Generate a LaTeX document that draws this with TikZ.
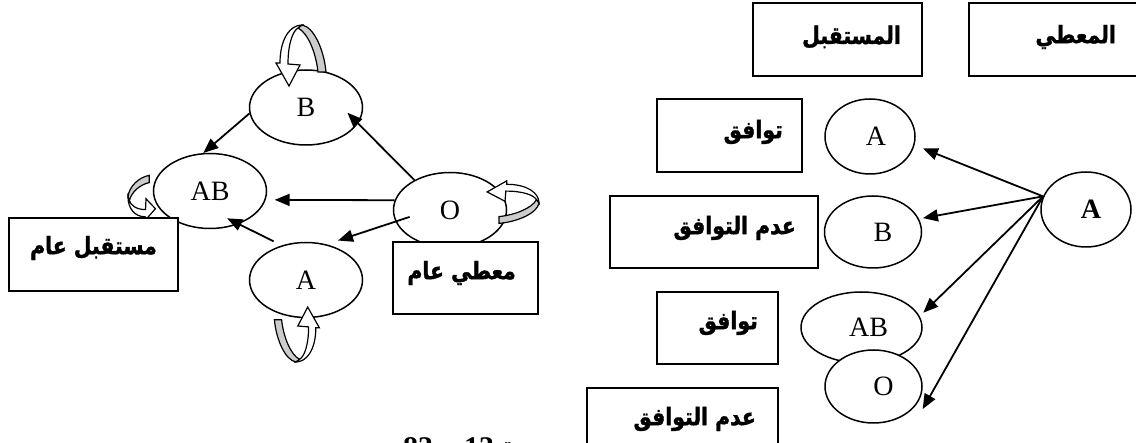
\documentclass[tikz,border=0pt]{standalone}
\usepackage{fontspec}
\setmainfont{Liberation Serif}
\newfontfamily\arabicfont[Script=Arabic, FakeStretch=0.85, BoldFeatures={FakeBold=1.5}]{DejaVu Sans}
\TeXXeTstate=1
\usetikzlibrary{shapes.geometric, arrows.meta}

% curled ribbon arrow, apex at the origin, legs pointing down
\newcommand{\loopribbon}{%
	\filldraw[fill=black!20, line width=1.2pt] (0,0) .. controls (12,2) and (22,25) .. (24,47) -- (16,47) .. controls (14,28) and (6,8) .. (-4,3) -- cycle;
	\filldraw[fill=white, line width=1.2pt] (0,0) .. controls (-12,0) and (-22,14) .. (-22,38) -- (-26,38) -- (-13,61) -- (-2,40) -- (-14,39) .. controls (-14,18) and (-9,6) .. (-4,3) -- cycle;
}

\tikzset{
	blob/.style={draw, ellipse, line width=1.5pt, fill=white, inner sep=0pt, minimum width=113pt, minimum height=75pt, font=\fontsize{28}{30}\selectfont},
	tag/.style={draw, rectangle, line width=1.8pt, fill=white, inner sep=0pt},
	artxt/.style={anchor=east, inner sep=0pt, font=\arabicfont\bfseries\fontsize{24}{28}\selectfont},
	arr/.style={line width=1.8pt, -{Triangle[length=15pt, width=12pt]}},
}

\begin{document}
\begin{tikzpicture}[x=1pt, y=-1pt]
			\useasboundingbox (0,0) rectangle (1136,443);

			% left graph
			\node[blob] (nB) at (306,107.5) {B};
			\node[blob] (nAB) at (210,191) {AB};
			\node[blob] (nO) at (450,210) {O};
			\node[blob] (nA) at (306,280) {A};

			\begin{scope}[shift={(302,25)}] \loopribbon \end{scope}
			\begin{scope}[shift={(296,362)}, rotate=180, scale=0.9] \loopribbon \end{scope}
			\begin{scope}[shift={(539,203)}, rotate=-90, scale=0.85] \loopribbon \end{scope}
			\begin{scope}[shift={(128,197)}, rotate=90, xscale=0.9, yscale=0.45] \loopribbon \end{scope}

			\draw[arr] (nB.186) -- (nAB.100);
			\draw[arr, shorten >=-15pt] (nO.140) -- (nB.-17);
			\draw[arr, shorten >=9pt] (nO.170) -- (nAB.-9);
			\draw[arr, shorten <=-15pt, shorten >=12pt] (nO.192) -- (nA.60);
			\draw[arr, shorten <=9pt, shorten >=-13pt] (nA.125) -- (nAB.-49);

			\node[anchor=base west, inner sep=0pt, font=\bfseries\fontsize{30}{32}\selectfont] (pageNo) at (403,458) {83 {\arabicfont و} 13 {\arabicfont ة}};

			\node[tag, minimum width=169pt, minimum height=73pt] (recvAll) at (93.5,254.5) {};
			\node[tag, minimum width=145pt, minimum height=72pt] (giveAll) at (465.5,278) {};
			\node[artxt] (recvAllTxt) at (157,248) {\beginR مستقبل عام\endR};
			\node[artxt] (giveAllTxt) at (516,273) {\beginR معطي عام\endR};

			% right table
			\node[tag, minimum width=169pt, minimum height=73pt] (recvHead) at (837.5,39.5) {};
			\node[tag, minimum width=176pt, minimum height=73pt] (giveHead) at (1057,39.5) {};
			\node[artxt] (recvHeadTxt) at (901,37) {\beginR المستقبل\endR};
			\node[artxt] (giveHeadTxt) at (1116,37) {\beginR المعطي\endR};

			\node[blob, minimum width=90pt] (gA) at (1086,209.5) {\hspace{10pt}\bfseries A};
			\node[blob, minimum width=90pt] (rA) at (870,136.5) {\hspace{12pt}A};
			\node[blob, minimum width=97pt, minimum height=72pt] (rB) at (873,232) {\hspace{20pt}B};
			\node[blob, minimum width=121pt, minimum height=71pt] (rAB) at (861.5,327.5) {\hspace{14pt}AB};
			\node[blob, minimum width=97pt, minimum height=73pt] (rO) at (873.5,386.5) {\hspace{20pt}O};

			\foreach \t/\s in {rA.-11/9pt, rB.16/4pt, rAB.11/5pt}
				{
					\draw[arr, shorten >=\s] (gA.163) -- (\t);
				}
			\draw[arr] (gA.163) -- ([xshift=10pt]rO.-30);

			\node[tag, minimum width=145pt, minimum height=73pt] (okA) at (729.5,135.5) {};
			\node[tag, minimum width=208pt, minimum height=72pt] (noB) at (714,232) {};
			\node[tag, minimum width=121pt, minimum height=72pt] (okAB) at (717.5,328) {};
			\node[tag, minimum width=191pt, minimum height=73pt] (noO) at (682.5,424.5) {};
			\node[artxt] (okATxt) at (783,132) {\beginR توافق\endR};
			\node[artxt] (noBTxt) at (796,228) {\beginR عدم التوافق\endR};
			\node[artxt] (okABTxt) at (758,323) {\beginR توافق\endR};
			\node[artxt] (noOTxt) at (756,419) {\beginR عدم التوافق\endR};
\end{tikzpicture}
\end{document}
